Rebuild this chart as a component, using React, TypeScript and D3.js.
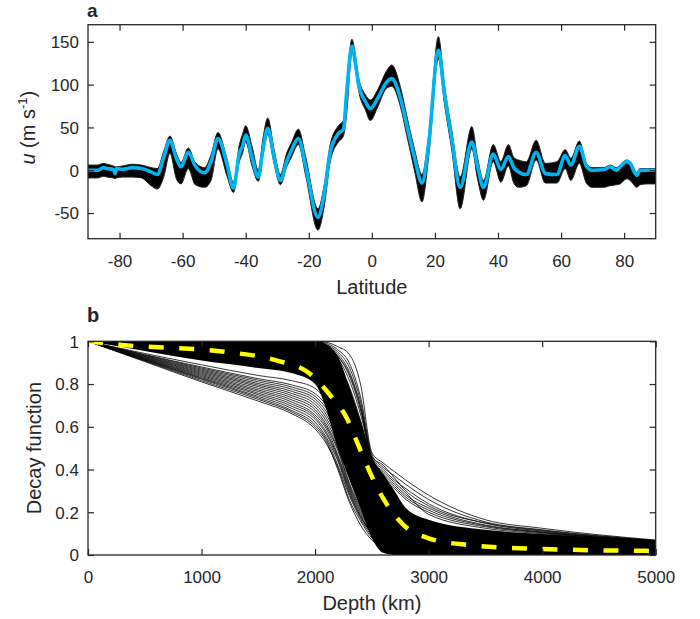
import React, { useEffect, useRef } from 'react';
import * as d3 from 'd3';

// panel a: zonal wind vs latitude (ensemble envelope + mean)
const latitude = [
  -90, -87, -85, -84, -82, -81.4, -81, -79, -76, -73, -70, -68, -66, -64, -62, -60.5, -58.2, -56, -53, -51,
  -48.8, -46, -43.9, -42, -41, -40, -38, -36, -34.5, -33, -31, -29, -27, -25.5, -23.3, -21, -17.1, -15, -13.2,
  -10.6, -9, -8, -6.3, -5, -4.2, -2, -0.5, 2, 4.5, 6.3, 9, 11, 13.5, 15.9, 18, 21.1, 23, 25.4, 28, 31.7, 33.5,
  35.4, 38.5, 40.9, 43.3, 45, 46.5, 49, 52.1, 55, 58.7, 61.3, 63.1, 65.8, 68, 69.8, 73.4, 75.6, 77.6, 78.7,
  80.8, 81.9, 84, 85, 87, 90,
];
const meanWind = [
  0, 0, 3, 2, 1, -4, 2, 1, 3, 2, -2, -5, 15, 35, 14, 4, 21, 5, -3, 10,
  37, 8, -21, 20, 28, 41, 15, -8, 25, 49, 15, -12, 10, 23, 37, 5, -55, -25, 21,
  43, 48, 90, 145, 120, 100, 80, 72, 85, 102, 107, 85, 54, 15, -15, 30, 140, 90, 35, -20, 33, 5,
  -20, 19, 1, 16, 3, -2, -5, 21, -4, -5, 17, 6, 28, 5, 0, 0.5, 4, 0, 4,
  10, 8, -6, 0, 0, 0,
];
const windUpper = [
  6, 6, 8, 7, 5, 4, 4, 5, 7, 6, 3, 2, 22, 40, 20, 9, 26, 9, 3, 18,
  44, 14, -14, 30, 42, 52, 28, 0, 38, 61, 24, -5, 20, 32, 48, 16, -45, -15, 30,
  52, 58, 100, 153, 128, 108, 88, 82, 95, 115, 123, 98, 65, 25, -5, 40, 156, 100, 45, -8, 51, 15,
  -12, 30, 10, 30, 15, 12, 10, 35, 8, 10, 24, 14, 34, 8, 3, 3, 6, 3, 6,
  12, 10, -3, 2, 2, 2,
];
const windLower = [
  -9, -9, -7, -8, -9, -10, -9, -8, -8, -9, -18, -22, -8, 20, -10, -16, 2, -17, -20, -12,
  25, -6, -26, 10, 20, 33, 5, -13, 18, 42, 8, -17, 4, 15, 30, -6, -70, -40, 10,
  33, 40, 65, 138, 112, 93, 70, 58, 75, 95, 98, 75, 42, 0, -37, 15, 130, 78, 22, -45, 25, -10,
  -35, 10, -14, 5, -15, -20, -18, 12, -15, -15, 2, -12, 8, -15, -20, -20, -18, -17, -16,
  -10, -12, -20, -17, -16, -16,
];
const latTicks = [-80, -60, -40, -20, 0, 20, 40, 60, 80];
const windTicks = [-50, 0, 50, 100, 150];

// panel b: decay functions vs depth
const depthNodes = [0, 500, 1000, 1500, 1800, 2000, 2100, 2200, 2300, 2400, 2500, 2600, 2700, 2800, 3000, 3500, 4000, 5000];
const coreUpper = [1, 1, 1, 1, 1, 1, 0.985, 0.93, 0.79, 0.63, 0.46, 0.38, 0.3, 0.22, 0.165, 0.118, 0.098, 0.068];
const coreLower = [1, 0.955, 0.91, 0.875, 0.85, 0.8, 0.68, 0.5, 0.36, 0.22, 0.08, 0.01, 0, 0, 0, 0, 0, 0];
const lowerFan = [
  [1, 0.905, 0.81, 0.72, 0.66, 0.59, 0.52, 0.41, 0.26, 0.16, 0.08, 0.04, 0.015, 0.005, 0, 0, 0, 0],
  [1, 0.908, 0.816, 0.728, 0.668, 0.6, 0.53, 0.4, 0.25, 0.14, 0.07, 0.03, 0.01, 0.004, 0, 0, 0, 0],
  [1, 0.91, 0.822, 0.735, 0.675, 0.61, 0.54, 0.42, 0.28, 0.17, 0.09, 0.045, 0.02, 0.008, 0, 0, 0, 0],
  [1, 0.912, 0.826, 0.742, 0.685, 0.622, 0.55, 0.44, 0.29, 0.18, 0.1, 0.05, 0.02, 0.008, 0.002, 0, 0, 0],
  [1, 0.914, 0.83, 0.75, 0.695, 0.635, 0.565, 0.45, 0.3, 0.18, 0.1, 0.05, 0.025, 0.01, 0.003, 0, 0, 0],
  [1, 0.916, 0.835, 0.757, 0.705, 0.645, 0.575, 0.46, 0.31, 0.19, 0.1, 0.055, 0.028, 0.012, 0.004, 0, 0, 0],
  [1, 0.918, 0.84, 0.765, 0.715, 0.655, 0.59, 0.47, 0.32, 0.2, 0.11, 0.06, 0.03, 0.015, 0.005, 0, 0, 0],
  [1, 0.92, 0.845, 0.772, 0.725, 0.668, 0.6, 0.49, 0.33, 0.21, 0.115, 0.065, 0.035, 0.018, 0.006, 0.001, 0, 0],
  [1, 0.923, 0.85, 0.78, 0.735, 0.68, 0.61, 0.5, 0.34, 0.22, 0.12, 0.07, 0.04, 0.02, 0.008, 0.002, 0, 0],
  [1, 0.925, 0.855, 0.788, 0.745, 0.692, 0.625, 0.515, 0.36, 0.23, 0.13, 0.075, 0.045, 0.025, 0.01, 0.003, 0.001, 0],
  [1, 0.928, 0.86, 0.795, 0.755, 0.705, 0.64, 0.53, 0.37, 0.24, 0.14, 0.08, 0.05, 0.03, 0.012, 0.004, 0.002, 0],
  [1, 0.93, 0.865, 0.802, 0.765, 0.718, 0.655, 0.545, 0.385, 0.255, 0.15, 0.09, 0.055, 0.035, 0.016, 0.006, 0.003, 0.001],
  [1, 0.933, 0.87, 0.81, 0.775, 0.73, 0.67, 0.56, 0.4, 0.27, 0.16, 0.1, 0.06, 0.04, 0.02, 0.008, 0.004, 0.001],
  [1, 0.936, 0.875, 0.818, 0.785, 0.742, 0.685, 0.58, 0.42, 0.285, 0.175, 0.11, 0.07, 0.048, 0.025, 0.01, 0.005, 0.002],
  [1, 0.938, 0.88, 0.825, 0.795, 0.755, 0.7, 0.6, 0.44, 0.3, 0.19, 0.12, 0.08, 0.055, 0.03, 0.012, 0.006, 0.002],
  [1, 0.943, 0.89, 0.84, 0.815, 0.78, 0.72, 0.63, 0.48, 0.33, 0.22, 0.15, 0.1, 0.07, 0.04, 0.02, 0.01, 0.004],
];
const upperFan = [
  [1, 1, 1, 1, 1, 1, 0.995, 0.975, 0.94, 0.8, 0.48, 0.43, 0.39, 0.35, 0.28, 0.165, 0.125, 0.07],
  [1, 1, 1, 1, 1, 0.998, 0.99, 0.96, 0.9, 0.74, 0.47, 0.41, 0.37, 0.33, 0.26, 0.155, 0.118, 0.068],
  [1, 1, 1, 1, 1, 0.995, 0.98, 0.94, 0.86, 0.7, 0.46, 0.4, 0.35, 0.31, 0.24, 0.148, 0.112, 0.066],
  [1, 1, 1, 1, 0.998, 0.99, 0.97, 0.92, 0.82, 0.66, 0.45, 0.38, 0.33, 0.28, 0.22, 0.14, 0.108, 0.064],
  [1, 0.998, 0.995, 0.99, 0.985, 0.975, 0.955, 0.9, 0.79, 0.63, 0.44, 0.36, 0.31, 0.26, 0.2, 0.132, 0.104, 0.063],
  [1, 1, 1, 1, 1, 0.99, 0.975, 0.93, 0.84, 0.68, 0.45, 0.39, 0.34, 0.29, 0.19, 0.125, 0.1, 0.065],
  [1, 1, 1, 1, 1, 0.997, 0.985, 0.95, 0.88, 0.72, 0.46, 0.42, 0.36, 0.3, 0.23, 0.15, 0.115, 0.067],
  [1, 1, 1, 1, 0.999, 0.993, 0.975, 0.93, 0.85, 0.69, 0.44, 0.37, 0.32, 0.27, 0.21, 0.137, 0.106, 0.064],
];
const meanDepth = [0, 300, 1200, 1650, 1950, 2130, 2280, 2380, 2480, 2600, 2780, 3000, 3350, 4000, 5000];
const meanDecay = [1, 0.983, 0.951, 0.912, 0.85, 0.75, 0.64, 0.515, 0.39, 0.265, 0.14, 0.078, 0.047, 0.028, 0.019];
const depthTicks = [0, 1000, 2000, 3000, 4000, 5000];
const decayTicks = [0, 0.2, 0.4, 0.6, 0.8, 1];

const width = 700;
const height = 619;
const left = 88;
const right = 655.7;
const ink = '#262626';
const font = '"Liberation Sans", Arial, Helvetica, sans-serif';

const drawFrame = (g, x, y, xTicks, yTicks, top, bottom) => {
  const fmt = (d) => String(d);
  const bot = g.append('g').attr('transform', `translate(0,${bottom})`)
    .call(d3.axisBottom(x).tickValues(xTicks).tickSizeInner(-6).tickSizeOuter(0).tickFormat(fmt));
  bot.selectAll('text').attr('y', 28).attr('dy', null);
  g.append('g').attr('transform', `translate(0,${top})`)
    .call(d3.axisTop(x).tickValues(xTicks).tickSizeInner(-6).tickSizeOuter(0).tickFormat(() => ''));
  const lft = g.append('g').attr('transform', `translate(${left},0)`)
    .call(d3.axisLeft(y).tickValues(yTicks).tickSizeInner(-6).tickSizeOuter(0).tickPadding(9).tickFormat(fmt));
  lft.selectAll('text').attr('dy', '0.35em');
  g.append('g').attr('transform', `translate(${right},0)`)
    .call(d3.axisRight(y).tickValues(yTicks).tickSizeInner(-6).tickSizeOuter(0).tickFormat(() => ''));

  g.selectAll('.domain').remove();
  g.selectAll('.tick line').attr('stroke', ink).attr('stroke-width', 1.2);
  g.selectAll('.tick text').attr('fill', ink).attr('font-size', 17).attr('font-family', font);

  g.append('rect')
    .attr('x', left).attr('y', top)
    .attr('width', right - left).attr('height', bottom - top)
    .attr('fill', 'none').attr('stroke', ink).attr('stroke-width', 1.3);
};

const App = () => {
  const ref = useRef(null);

  useEffect(() => {
    const svg = d3.select(ref.current);
    svg.selectAll('*').remove();

    // ---- panel a ----
    const topA = 24.7;
    const botA = 238.7;
    const xA = d3.scaleLinear().domain([-90, 90]).range([left, right]);
    const yA = d3.scaleLinear().domain([-80, 170]).range([botA, topA]);
    const gA = svg.append('g');

    gA.append('clipPath').attr('id', 'clipA').append('rect')
      .attr('x', left).attr('y', topA).attr('width', right - left).attr('height', botA - topA);

    const band = d3.area()
      .x((d, i) => xA(latitude[i]))
      .y0((d, i) => yA(windLower[i]))
      .y1((d, i) => yA(windUpper[i]))
      .curve(d3.curveMonotoneX);
    gA.append('path').datum(latitude).attr('d', band)
      .attr('clip-path', 'url(#clipA)')
      .attr('fill', '#000').attr('stroke', '#222').attr('stroke-width', 1);

    const meanLine = d3.line()
      .x((d, i) => xA(latitude[i]))
      .y((d) => yA(d))
      .curve(d3.curveMonotoneX);
    gA.append('path').datum(meanWind).attr('d', meanLine)
      .attr('clip-path', 'url(#clipA)')
      .attr('fill', 'none').attr('stroke', '#00b4f0').attr('stroke-width', 3.6)
      .attr('stroke-linejoin', 'round');

    drawFrame(gA, xA, yA, latTicks, windTicks, topA, botA);

    gA.append('text').attr('x', 87).attr('y', 17)
      .attr('font-weight', 'bold').attr('font-size', 19).attr('font-family', font).attr('fill', ink)
      .text('a');
    gA.append('text').attr('x', (left + right) / 2).attr('y', 294)
      .attr('text-anchor', 'middle').attr('font-size', 20).attr('font-family', font).attr('fill', ink)
      .text('Latitude');
    const yl = gA.append('text')
      .attr('transform', `translate(35,${(topA + botA) / 2 - 4}) rotate(-90)`)
      .attr('text-anchor', 'middle').attr('font-size', 20).attr('font-family', font).attr('fill', ink);
    yl.append('tspan').attr('font-style', 'italic').text('u');
    yl.append('tspan').text(' (m s');
    yl.append('tspan').attr('font-size', 13).attr('dy', -8).text('-1');
    yl.append('tspan').attr('dy', 8).text(')');

    // ---- panel b ----
    const topB = 341.3;
    const botB = 555;
    const xB = d3.scaleLinear().domain([0, 5000]).range([left, right]);
    const yB = d3.scaleLinear().domain([0, 1]).range([botB, topB]);
    const gB = svg.append('g');

    gB.append('clipPath').attr('id', 'clipB').append('rect')
      .attr('x', left).attr('y', topB).attr('width', right - left).attr('height', botB - topB);
    const plotB = gB.append('g').attr('clip-path', 'url(#clipB)');

    const core = d3.area()
      .x((d, i) => xB(depthNodes[i]))
      .y0((d, i) => yB(coreLower[i]))
      .y1((d, i) => yB(coreUpper[i]))
      .curve(d3.curveMonotoneX);
    plotB.append('path').datum(depthNodes).attr('d', core).attr('fill', '#000');

    const member = d3.line()
      .x((d, i) => xB(depthNodes[i]))
      .y((d) => yB(d))
      .curve(d3.curveMonotoneX);
    plotB.selectAll('.member')
      .data([...lowerFan, ...upperFan])
      .enter().append('path')
      .attr('class', 'member')
      .attr('d', member)
      .attr('fill', 'none').attr('stroke', '#000').attr('stroke-width', 0.8);

    const meanDecayLine = d3.line()
      .x((d, i) => xB(meanDepth[i]))
      .y((d) => yB(d))
      .curve(d3.curveMonotoneX);
    plotB.append('path').datum(meanDecay).attr('d', meanDecayLine)
      .attr('fill', 'none').attr('stroke', '#ffff00').attr('stroke-width', 4.5)
      .attr('stroke-dasharray', '15 15.5');

    drawFrame(gB, xB, yB, depthTicks, decayTicks, topB, botB);

    gB.append('text').attr('x', 87).attr('y', 322)
      .attr('font-weight', 'bold').attr('font-size', 20).attr('font-family', font).attr('fill', ink)
      .text('b');
    gB.append('text').attr('x', (left + right) / 2).attr('y', 610)
      .attr('text-anchor', 'middle').attr('font-size', 20).attr('font-family', font).attr('fill', ink)
      .text('Depth (km)');
    gB.append('text')
      .attr('transform', `translate(41,${(topB + botB) / 2}) rotate(-90)`)
      .attr('text-anchor', 'middle').attr('font-size', 20).attr('font-family', font).attr('fill', ink)
      .text('Decay function');
  }, []);

  return (
    <svg ref={ref} width={width} height={height}
      style={{ position: 'absolute', left: 0, top: 0, background: '#fff' }} />
  );
};

export default App;
